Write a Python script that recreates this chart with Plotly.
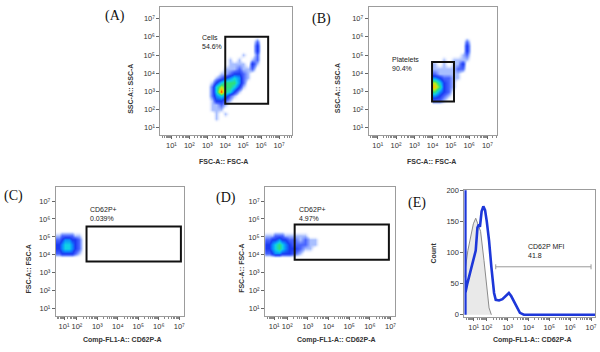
import math
import plotly.graph_objects as go

# ---------------- data ----------------
# density levels 0..9 on log10 decades (rows listed top -> bottom)
a_x = [3.0, 3.25, 3.5, 3.75, 4.0, 4.25, 4.5, 4.75, 5.0, 5.25, 5.5, 5.75, 6.0]
a_y = [6.0, 5.75, 5.5, 5.25, 5.0, 4.75, 4.5, 4.25, 4.0, 3.75, 3.5, 3.25, 3.0, 2.75, 2.5, 2.25, 2.0, 1.75, 1.5, 1.25]
a_z = [
    [0, 0, 0, 0, 0, 0, 0, 0, 0, 0, 0, 0, 0],
    [0, 0, 0, 0, 0, 0, 0, 0, 0, 0, 0, 2, 0],
    [0, 0, 0, 0, 0, 0, 0, 0, 0, 0, 0, 3, 0],
    [0, 0, 0, 0, 0, 0, 0, 0, 0, 0, 0, 3, 0],
    [0, 0, 0, 0, 0, 0, 0, 0, 1, 0, 0, 2, 0],
    [0, 0, 0, 0, 0, 1, 0, 1, 0, 0, 1, 2, 0],
    [0, 0, 0, 0, 0, 1, 1, 1, 1, 0, 3, 1, 0],
    [0, 0, 0, 0, 1, 1, 1, 2, 1, 1, 2, 0, 0],
    [0, 0, 0, 1, 1, 2, 3, 3, 2, 1, 0, 0, 0],
    [0, 0, 1, 2, 3, 4, 5, 4, 2, 1, 0, 0, 0],
    [0, 1, 3, 5, 6, 6, 6, 4, 2, 0, 0, 0, 0],
    [0, 2, 5, 7, 6, 6, 5, 3, 1, 0, 0, 0, 0],
    [0, 2, 5, 9, 6, 5, 3, 1, 0, 0, 0, 0, 0],
    [0, 2, 4, 5, 4, 2, 1, 0, 0, 0, 0, 0, 0],
    [0, 1, 3, 3, 2, 1, 0, 0, 0, 0, 0, 0, 0],
    [0, 1, 1, 2, 1, 0, 0, 0, 0, 0, 0, 0, 0],
    [0, 1, 1, 1, 0, 0, 0, 0, 0, 0, 0, 0, 0],
    [0, 0, 1, 0, 1, 0, 0, 0, 0, 0, 0, 0, 0],
    [0, 0, 1, 0, 0, 0, 0, 0, 0, 0, 0, 0, 0],
    [0, 0, 0, 0, 0, 0, 0, 0, 0, 0, 0, 0, 0],
]

b_x = [4.125, 4.375, 4.625, 4.875, 5.125, 5.375, 5.625, 5.875, 6.125]
b_y = [6.0, 5.75, 5.5, 5.25, 5.0, 4.75, 4.5, 4.25, 4.0, 3.75, 3.5, 3.25, 3.0, 2.75, 2.5, 2.25]
b_z = [
    [0, 0, 0, 0, 0, 0, 0, 0, 0],
    [0, 0, 0, 0, 0, 0, 0, 2, 0],
    [0, 0, 0, 0, 0, 0, 0, 3, 0],
    [0, 0, 0, 0, 0, 0, 0, 3, 0],
    [0, 0, 0, 0, 0, 0, 1, 2, 0],
    [0, 0, 1, 0, 1, 1, 1, 1, 0],
    [1, 0, 1, 0, 1, 1, 3, 0, 0],
    [1, 1, 1, 1, 1, 2, 2, 0, 0],
    [2, 1, 1, 1, 1, 1, 0, 0, 0],
    [4, 3, 2, 2, 1, 1, 0, 0, 0],
    [7, 5, 3, 2, 1, 0, 0, 0, 0],
    [8, 6, 3, 2, 1, 0, 0, 0, 0],
    [6, 4, 3, 2, 0, 0, 0, 0, 0],
    [4, 3, 2, 1, 0, 0, 0, 0, 0],
    [2, 2, 1, 0, 0, 0, 0, 0, 0],
    [0, 0, 0, 0, 0, 0, 0, 0, 0],
]

c_x = [0.35, 0.6, 0.85, 1.1, 1.35, 1.6, 1.85, 2.1, 2.35]
c_y = [5.35, 5.1, 4.85, 4.6, 4.35, 4.1, 3.85]
c_z = [
    [0, 0, 0, 0, 0, 0, 0, 0, 0],
    [1, 1, 2, 2, 2, 2, 1, 1, 0],
    [2, 2, 3, 4, 4, 3, 3, 2, 0],
    [3, 3, 4, 5, 5, 4, 3, 2, 0],
    [3, 3, 4, 5, 5, 4, 3, 2, 0],
    [2, 2, 3, 3, 3, 3, 2, 1, 0],
    [0, 0, 0, 0, 0, 0, 0, 0, 0],
]

d_x = [0.35, 0.6, 0.85, 1.1, 1.35, 1.6, 1.85, 2.1, 2.35, 2.6, 2.85, 3.1, 3.35, 3.6]
d_y = [5.35, 5.1, 4.85, 4.6, 4.35, 4.1, 3.85]
d_z = [
    [0, 0, 0, 0, 0, 0, 0, 0, 0, 0, 0, 0, 0, 0],
    [1, 1, 1, 2, 2, 2, 1, 1, 1, 1, 1, 0, 0, 0],
    [2, 2, 3, 3, 4, 3, 3, 2, 2, 1, 2, 1, 1, 0],
    [3, 3, 4, 5, 6, 5, 4, 3, 2, 2, 2, 1, 1, 0],
    [3, 3, 4, 5, 6, 5, 4, 3, 3, 2, 1, 1, 0, 0],
    [2, 2, 3, 4, 4, 3, 3, 3, 2, 1, 0, 0, 0, 0],
    [0, 0, 0, 0, 0, 0, 0, 0, 0, 0, 0, 0, 0, 0],
]

# Panel E histograms (log10 of CD62P-A, count); first bins are the off-scale pile-up
blue_log = [0.37, 0.37, 0.37, 0.52, 0.77, 0.98, 1.16, 1.29, 1.40, 1.48, 1.61, 1.74, 1.87, 2.00,
            2.11, 2.22, 2.35, 2.43, 2.59, 2.75, 2.90, 3.06, 3.17, 3.30, 3.43, 3.59, 3.78, 7.40]
blue_count = [0, 230, 35, 50, 71, 87, 103, 140, 145, 141, 166, 174, 168, 150,
              119, 77, 35, 24, 23, 25, 30, 35, 30, 22, 14, 3, 0, 0]
gray_log = [0.34, 0.39, 0.56, 0.77, 0.98, 1.16, 1.53, 1.79, 2.00, 2.11, 2.22]
gray_count = [60, 77, 103, 124, 146, 155, 134, 87, 40, 11, 0]

# gates (log10 decades)
gate_a = dict(x0=4.0, x1=6.39, y0=2.31, y1=6.01)
gate_b = dict(x0=3.97, x1=5.17, y0=2.43, y1=4.61)
gate_c = dict(x0=2.47, x1=7.08, y0=3.63, y1=5.58)
gate_d = dict(x0=2.36, x1=6.92, y0=3.72, y1=5.69)
gate_e = dict(x0=2.43, x1=7.0, y=77)

labels = {
    "A": ("Cells<br>54.6%", 2.59, 5.70),
    "B": ("Platelets<br>90.4%", 1.69, 4.49),
    "C": ("CD62P+<br>0.039%", 2.56, 6.29),
    "D": ("CD62P+<br>4.97%", 2.45, 6.29),
    "E": ("CD62P MFI<br>41.8", 3.86, 102),
}

decades = [1, 2, 3, 4, 5, 6, 7]
sup = {1: "¹", 2: "²", 3: "³", 4: "⁴", 5: "⁵", 6: "⁶", 7: "⁷"}
decade_text = ["10" + sup[n] for n in decades]
count_ticks = [0, 50, 100, 150, 200]

# ---------------- scales ----------------
W, H = 600, 352


def lin(v):
    return v


def biex(v):
    # compressed display of the lowest decade (FlowJo-style)
    return v if v >= 2 else 2 - (2 - v) * 0.63


def px(x):
    return x / W


def py(y):
    return 1 - y / H


colorscale = [
    [0.0, "rgba(255,255,255,0)"],
    [1 / 9, "#a9bfff"],
    [2 / 9, "#4a66ff"],
    [3 / 9, "#1a3af2"],
    [4 / 9, "#0a8cff"],
    [5 / 9, "#10d2e6"],
    [6 / 9, "#2fe07a"],
    [7 / 9, "#b4f020"],
    [8 / 9, "#ffc400"],
    [1.0, "#ff2200"],
]

fig = go.Figure()

panels = [
    ("A", "x", "y", lin, a_x, a_y, a_z),
    ("B", "x2", "y2", lin, b_x, b_y, b_z),
    ("C", "x3", "y3", biex, c_x, c_y, c_z),
    ("D", "x4", "y4", biex, d_x, d_y, d_z),
]
for name, xa, ya, tf, xs, ys, zs in panels:
    fig.add_trace(go.Heatmap(
        x=[tf(v) for v in xs], y=ys[::-1], z=zs[::-1],
        zmin=0, zmax=9, colorscale=colorscale, showscale=False,
        zsmooth="best", hoverinfo="skip", xaxis=xa, yaxis=ya))

# panel E
fig.add_trace(go.Scatter(
    x=[biex(v) for v in gray_log], y=gray_count, mode="lines",
    line=dict(color="#8a8a8a", width=1), fill="tozeroy", fillcolor="rgba(215,215,215,0.55)",
    xaxis="x5", yaxis="y5", hoverinfo="skip"))
fig.add_trace(go.Scatter(
    x=[biex(v) for v in blue_log], y=blue_count, mode="lines",
    line=dict(color="#1d37d9", width=2.6), xaxis="x5", yaxis="y5", hoverinfo="skip"))

font_tick = dict(family="Liberation Sans, Arial", size=7.5, color="#333333")


def minor_vals(tf, lo, hi):
    vals = []
    for n in range(0, 8):
        for k in range(2, 10):
            v = tf(n + math.log10(k))
            if lo <= v <= hi:
                vals.append(v)
    return vals


def log_axis(dom, rng, tf, anchor, minor=True):
    d = dict(domain=dom, range=rng, anchor=anchor, showline=True, mirror=True,
             linecolor="#9c9c9c", linewidth=1, ticks="outside", ticklen=3,
             tickcolor="#666666", tickvals=[tf(n) for n in decades], ticktext=decade_text,
             tickfont=font_tick, tickangle=0, showgrid=False, zeroline=False, fixedrange=True)
    if minor:
        d["minor"] = dict(tickvals=minor_vals(tf, rng[0], rng[1]), ticks="outside",
                          ticklen=2, tickcolor="#888888", showgrid=False)
    return d


dom = {
    "A": ([px(161), px(293)], [py(134), py(3)]),
    "B": ([px(370), px(499)], [py(134), py(3)]),
    "C": ([px(56), px(185)], [py(318), py(187)]),
    "D": ([px(266), px(396)], [py(318), py(187)]),
    "E": ([px(466), px(597)], [py(319), py(190)]),
}

fig.update_layout(
    width=W, height=H, autosize=False, margin=dict(l=0, r=0, t=0, b=0),
    paper_bgcolor="white", plot_bgcolor="white", showlegend=False,
    xaxis=log_axis(dom["A"][0], [0.39, 7.72], lin, "y"),
    yaxis=log_axis(dom["A"][1], [0.57, 7.65], lin, "x", minor=False),
    xaxis2=log_axis(dom["B"][0], [0.51, 7.54], lin, "y2"),
    yaxis2=log_axis(dom["B"][1], [0.57, 7.65], lin, "x2", minor=False),
    xaxis3=log_axis(dom["C"][0], [0.97, 7.25], biex, "y3"),
    yaxis3=log_axis(dom["C"][1], [0.6, 7.77], lin, "x3", minor=False),
    xaxis4=log_axis(dom["D"][0], [0.93, 7.2], biex, "y4"),
    yaxis4=log_axis(dom["D"][1], [0.6, 7.77], lin, "x4", minor=False),
    xaxis5=log_axis(dom["E"][0], [0.93, 7.19], biex, "y5"),
    yaxis5=dict(domain=dom["E"][1], range=[-3.1, 200], anchor="x5", showline=True, mirror=True,
                linecolor="#9c9c9c", linewidth=1, ticks="outside", ticklen=3, tickcolor="#666666",
                tickvals=count_ticks, ticktext=[str(v) for v in count_ticks], tickfont=font_tick,
                showgrid=False, zeroline=False, fixedrange=True),
)

# gates
for g, xa, ya in [(gate_a, "x", "y"), (gate_b, "x2", "y2")]:
    fig.add_shape(type="rect", xref=xa, yref=ya, x0=g["x0"], x1=g["x1"], y0=g["y0"], y1=g["y1"],
                  line=dict(color="#111111", width=2))
for g, xa, ya in [(gate_c, "x3", "y3"), (gate_d, "x4", "y4")]:
    fig.add_shape(type="rect", xref=xa, yref=ya, x0=biex(g["x0"]), x1=biex(g["x1"]),
                  y0=g["y0"], y1=g["y1"], line=dict(color="#111111", width=2))
fig.add_shape(type="line", xref="x5", yref="y5", x0=biex(gate_e["x0"]), x1=biex(gate_e["x1"]),
              y0=gate_e["y"], y1=gate_e["y"], line=dict(color="#9a9a9a", width=1))
for xe in (gate_e["x0"], gate_e["x1"]):
    fig.add_shape(type="line", xref="x5", yref="y5", x0=biex(xe), x1=biex(xe),
                  y0=gate_e["y"] - 4, y1=gate_e["y"] + 4, line=dict(color="#9a9a9a", width=1))

ann = []
axis_ids = {"A": ("x", "y", lin), "B": ("x2", "y2", lin), "C": ("x3", "y3", biex),
            "D": ("x4", "y4", biex), "E": ("x5", "y5", biex)}
for k, (txt, lx, ly) in labels.items():
    xa, ya, tf = axis_ids[k]
    ann.append(dict(text=txt, x=tf(lx), y=ly, xref=xa, yref=ya, xanchor="left", yanchor="middle",
                    align="left", showarrow=False,
                    font=dict(family="Liberation Sans, Arial", size=7, color="#222222")))

for t, x, y in [("(A)", 115, 12), ("(B)", 323, 15), ("(C)", 14, 196), ("(D)", 227, 198), ("(E)", 418, 203)]:
    ann.append(dict(text=t, x=px(x), y=py(y), xref="paper", yref="paper", xanchor="center",
                    yanchor="middle", showarrow=False,
                    font=dict(family="Liberation Serif, Times New Roman", size=14, color="#111111")))

title_font = dict(family="Liberation Sans, Arial", size=7, color="#333333")
for t, x, y, ang in [
    ("<b>SSC-A:: SSC-A</b>", 131, 87, -90), ("<b>FSC-A:: FSC-A</b>", 224, 161, 0),
    ("<b>SSC-A:: SSC-A</b>", 338, 86, -90), ("<b>FSC-A:: FSC-A</b>", 433, 161, 0),
    ("<b>FSC-A:: FSC-A</b>", 29, 270, -90), ("<b>Comp-FL1-A:: CD62P-A</b>", 123, 343, 0),
    ("<b>FSC-A:: FSC-A</b>", 242, 270, -90), ("<b>Comp-FL1-A:: CD62P-A</b>", 338, 343, 0),
    ("<b>Count</b>", 435, 254, -90), ("<b>Comp-FL1-A:: CD62P-A</b>", 534, 343, 0),
]:
    ann.append(dict(text=t, x=px(x), y=py(y), xref="paper", yref="paper", xanchor="center",
                    yanchor="middle", textangle=ang, showarrow=False, font=title_font))

fig.update_layout(annotations=ann)
fig.write_html("out.html", config={"displayModeBar": False},
               post_script="document.body.style.margin='0px';")
